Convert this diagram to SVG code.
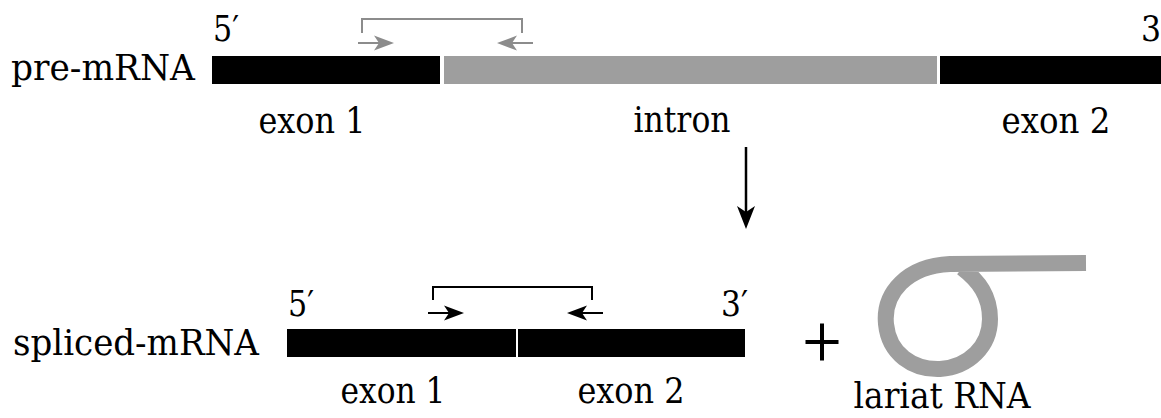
<svg xmlns="http://www.w3.org/2000/svg" width="1161" height="418" viewBox="0 0 1161 418">
<style>
text{font-family:'DejaVu Serif Condensed','DejaVu Serif',serif;font-stretch:condensed;font-size:35px;fill:#000}
.c{text-anchor:middle}
.blk{fill:#000}
.gry{fill:#9e9e9e}
.br{fill:none;stroke-width:2}
</style>
<rect width="1161" height="418" fill="#fff"/>
<g id="pre-mrna">
<text x="11" y="80" textLength="184" lengthAdjust="spacingAndGlyphs">pre-mRNA</text>
<text x="213" y="41" textLength="26" lengthAdjust="spacingAndGlyphs">5′</text>
<text x="1141" y="41">3′</text>
<rect id="pre-exon1" class="blk" x="212" y="56" width="228" height="28"/>
<rect id="pre-intron" class="gry" x="444" y="56" width="493" height="28"/>
<rect id="pre-exon2" class="blk" x="940" y="56" width="221" height="28"/>
<text class="c" x="312" y="133" textLength="107" lengthAdjust="spacingAndGlyphs">exon 1</text>
<text class="c" x="682" y="132" textLength="97" lengthAdjust="spacingAndGlyphs">intron</text>
<text class="c" x="1056" y="133" textLength="109" lengthAdjust="spacingAndGlyphs">exon 2</text>
</g>
<g id="spliced-mrna">
<text x="13" y="355" textLength="246" lengthAdjust="spacingAndGlyphs">spliced-mRNA</text>
<text x="288" y="316" textLength="26" lengthAdjust="spacingAndGlyphs">5′</text>
<text x="721" y="316" textLength="27" lengthAdjust="spacingAndGlyphs">3′</text>
<rect id="sp-exon1" class="blk" x="287" y="329" width="229" height="28"/>
<rect id="sp-exon2" class="blk" x="518" y="329" width="227" height="28"/>
<text class="c" x="393" y="403" textLength="105" lengthAdjust="spacingAndGlyphs">exon 1</text>
<text class="c" x="631" y="403" textLength="107" lengthAdjust="spacingAndGlyphs">exon 2</text>
</g>
<g id="plus">
<path d="M805.5 342H838.5M822 323.5V360.5" stroke="#000" stroke-width="4"/>
</g>
<g id="lariat">
<path d="M1086 263L950 264C907 266 883 293 886 324C889 354 913 370 940 369C969 367 990 346 990 319C990 296 979 281 962 268" fill="none" stroke="#9e9e9e" stroke-width="16"/>
<text class="c" x="942" y="408" textLength="177" lengthAdjust="spacingAndGlyphs">lariat RNA</text>
</g>
<g id="connectors">
<path class="br" stroke="#8c8c8c" d="M362 33V19H522V33"/>
<path stroke="#8c8c8c" stroke-width="2" d="M358 43H384M533 43H507"/>
<path fill="#8c8c8c" d="M394 43L374 35.5L379 43L374 50.5Z"/>
<path fill="#8c8c8c" d="M497 43L517 35.5L512 43L517 50.5Z"/>
<path class="br" stroke="#000" d="M433 300V287H592V300"/>
<path stroke="#000" stroke-width="2" d="M428 313H454M603 313H577"/>
<path fill="#000" d="M464 313L444 305.5L449 313L444 320.5Z"/>
<path fill="#000" d="M567 313L587 305.5L582 313L587 320.5Z"/>
<path stroke="#000" stroke-width="2.5" d="M746 147V215"/>
<path fill="#000" d="M746 229L737 206L746 212L755 206Z"/>
</g>
</svg>
